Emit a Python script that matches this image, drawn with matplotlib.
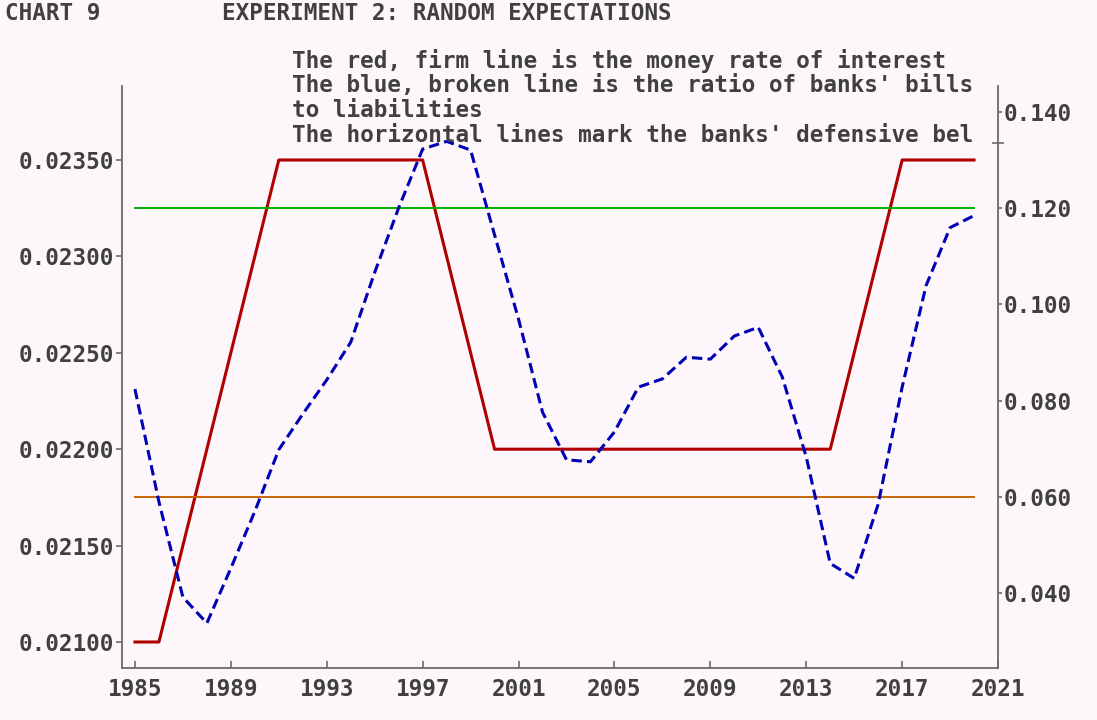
import matplotlib
matplotlib.use("Agg")
import matplotlib.pyplot as plt

# data
years = list(range(1985, 2021))
money_rate = [0.02100, 0.02100, 0.02150, 0.02200, 0.02250, 0.02300, 0.02350, 0.02350,
              0.02350, 0.02350, 0.02350, 0.02350, 0.02350, 0.02300, 0.02250, 0.02200,
              0.02200, 0.02200, 0.02200, 0.02200, 0.02200, 0.02200, 0.02200, 0.02200,
              0.02200, 0.02200, 0.02200, 0.02200, 0.02200, 0.02200, 0.02250, 0.02300,
              0.02350, 0.02350, 0.02350, 0.02350]
bills_ratio = [0.0824, 0.0590, 0.0392, 0.0338, 0.0452, 0.0570, 0.0698, 0.0772,
               0.0843, 0.0921, 0.1066, 0.1200, 0.1322, 0.1338, 0.1320, 0.1144,
               0.0969, 0.0776, 0.0677, 0.0673, 0.0735, 0.0828, 0.0845, 0.0890,
               0.0886, 0.0934, 0.0952, 0.0849, 0.0683, 0.0462, 0.0431, 0.0585,
               0.0828, 0.1039, 0.1159, 0.1184]
upper_bound = 0.120
lower_bound = 0.060

left_ticks = [0.02100, 0.02150, 0.02200, 0.02250, 0.02300, 0.02350]
right_ticks = [0.040, 0.060, 0.080, 0.100, 0.120, 0.140]
x_ticks = [1985, 1989, 1993, 1997, 2001, 2005, 2009, 2013, 2017, 2021]

notes = ["The red, firm line is the money rate of interest",
         "The blue, broken line is the ratio of banks' bills",
         "to liabilities",
         "The horizontal lines mark the banks' defensive bel"]

bg = "#fdf7fc"
txt = "#404040"
font = dict(family="DejaVu Sans Mono", fontsize=16.3, color=txt, fontweight="bold")

fig = plt.figure(figsize=(10.97, 7.2), dpi=100, facecolor=bg)
ax = fig.add_axes([0.1112, 0.0722, 0.7986, 0.8084], facecolor=bg)
ax2 = ax.twinx()

ax.plot(years, money_rate, color="#b00000", lw=2.2, zorder=3)
ax2.plot(years, bills_ratio, color="#0000b4", lw=2.2, dashes=(3.4, 1.7), zorder=3)
ax2.plot([years[0], years[-1]], [upper_bound, upper_bound], color="#00b000", lw=1.4)
ax2.plot([years[0], years[-1]], [lower_bound, lower_bound], color="#c86400", lw=1.4)

ax.set_xlim(1984.46, 2021)
ax.set_ylim(0.020865, 0.023884)
ax2.set_ylim(0.02449, 0.1453)

ax.set_xticks(x_ticks)
ax.set_xticklabels([str(y) for y in x_ticks], **font)
ax.set_yticks(left_ticks)
ax.set_yticklabels([f"{v:.5f}" for v in left_ticks], **font)
ax2.set_yticks(right_ticks)
ax2.set_yticklabels([f"{v:.3f}" for v in right_ticks], **font)
ax2.set_yticks([0.1335], minor=True)

for a in (ax, ax2):
    a.spines["top"].set_visible(False)
    for side in ("left", "right", "bottom"):
        a.spines[side].set_color("#6a6a6a")
        a.spines[side].set_linewidth(1.3)
ax.spines["right"].set_visible(False)
ax2.spines["left"].set_visible(False)
ax2.spines["bottom"].set_visible(False)

ax.tick_params(axis="x", direction="in", length=5, width=1.2, color="#6a6a6a", pad=7)
ax.tick_params(axis="y", direction="out", length=4, width=1.2, color="#6a6a6a", pad=2)
ax2.tick_params(axis="y", direction="out", length=3, width=1.2, color="#6a6a6a", pad=1)
ax2.tick_params(axis="y", which="minor", direction="inout", length=8, width=1.2, color="#6a6a6a")

fig.text(5 / 1097, 1 - 14 / 720, "CHART 9", va="center", ha="left", **font)
fig.text(222 / 1097, 1 - 14 / 720, "EXPERIMENT 2: RANDOM EXPECTATIONS", va="center", ha="left", **font)
for i, line in enumerate(notes):
    fig.text(292 / 1097, 1 - (61 + i * 24.7) / 720, line, va="center", ha="left", **font)

fig.savefig("out.png", dpi=100, facecolor=bg)
